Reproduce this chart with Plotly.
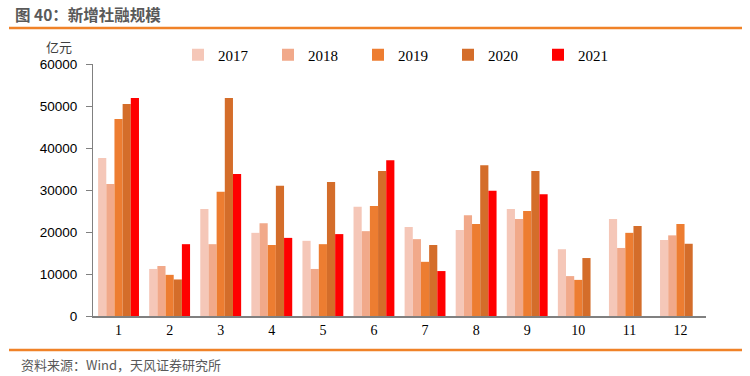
import plotly.graph_objects as go

months = ["1", "2", "3", "4", "5", "6", "7", "8", "9", "10", "11", "12"]
y2017 = [37600, 11200, 25500, 19800, 17900, 26000, 21200, 20500, 25500, 15900, 23100, 18100]
y2018 = [31400, 11900, 17100, 22100, 11200, 20200, 18300, 24000, 23100, 9500, 16200, 19200]
y2019 = [46900, 9800, 29600, 16900, 17100, 26200, 12900, 21900, 25000, 8600, 19800, 21900]
y2020 = [50500, 8700, 51900, 31000, 31900, 34500, 16900, 35900, 34500, 13800, 21400, 17200]
y2021 = [51900, 17100, 33800, 18600, 19500, 37100, 10700, 29800, 29000, None, None, None]
series_names = ["2017", "2018", "2019", "2020", "2021"]
colors = ["#F5C7B8", "#F1A98A", "#ED7D31", "#D46D2A", "#FF0000"]
tick_vals = [0, 10000, 20000, 30000, 40000, 50000, 60000]

fig = go.Figure()
for name, vals, c in zip(series_names, [y2017, y2018, y2019, y2020, y2021], colors):
    fig.add_trace(go.Bar(x=months, y=vals, name=name, marker=dict(color=c, line=dict(width=0))))

fig.update_layout(
    width=750, height=376,
    margin=dict(l=93, r=44, t=64, b=60, autoexpand=False),
    paper_bgcolor="white", plot_bgcolor="white",
    barmode="group", bargap=0.2, bargroupgap=0,
    showlegend=True,
    legend=dict(orientation="h", x=(178 - 93) / 613, y=1 + (64 - 55) / 252, xanchor="left", yanchor="middle",
                entrywidth=45, entrywidthmode="pixels", itemwidth=30,
                font=dict(family="Liberation Serif", size=15, color="#000000"),
                traceorder="normal", bgcolor="rgba(0,0,0,0)"),
    xaxis=dict(showline=True, linecolor="#808080", linewidth=2, ticks="",
               tickfont=dict(family="Liberation Serif", size=14, color="#000000"),
               showgrid=False, zeroline=False),
    yaxis=dict(range=[0, 60000], tickvals=tick_vals, ticktext=[str(v) for v in tick_vals],
               showline=True, linecolor="#808080", linewidth=1, ticks="outside",
               ticklen=6, tickcolor="#808080", ticklabelstandoff=6,
               tickfont=dict(family="Liberation Sans", size=13.5, color="#000000"),
               showgrid=False, zeroline=False),
    font=dict(family="Liberation Sans"),
)

fig.add_annotation(text="<b>图 40：新增社融规模</b>", xref="paper", yref="paper",
                   x=-80/613, y=1 + (64 - 14) / 252, xanchor="left", yanchor="middle",
                   showarrow=False, font=dict(family="Noto Sans CJK SC", size=15.5, color="#595959"))
fig.add_annotation(text="亿元", xref="paper", yref="paper",
                   x=-19/613, y=1 + (64 - 46) / 252, xanchor="right", yanchor="middle",
                   showarrow=False, font=dict(family="Noto Sans CJK SC", size=13, color="#404040"))
fig.add_annotation(text="资料来源：Wind，天风证券研究所", xref="paper", yref="paper",
                   x=-74/613, y=-(364 - 316) / 252, xanchor="left", yanchor="middle",
                   showarrow=False, font=dict(family="Noto Sans CJK SC", size=13, color="#595959"))
fig.add_shape(type="line", xref="paper", yref="paper",
              x0=-84/613, x1=649/613, y0=1 + (64 - 28) / 252, y1=1 + (64 - 28) / 252,
              line=dict(color="#F08228", width=2.5))
fig.add_shape(type="line", xref="paper", yref="paper",
              x0=-84/613, x1=649/613, y0=-(350 - 316) / 252, y1=-(350 - 316) / 252,
              line=dict(color="#F08228", width=2.5))

fig.write_html("out.html", config={"displayModeBar": False},
               post_script="document.body.style.margin='0';")
